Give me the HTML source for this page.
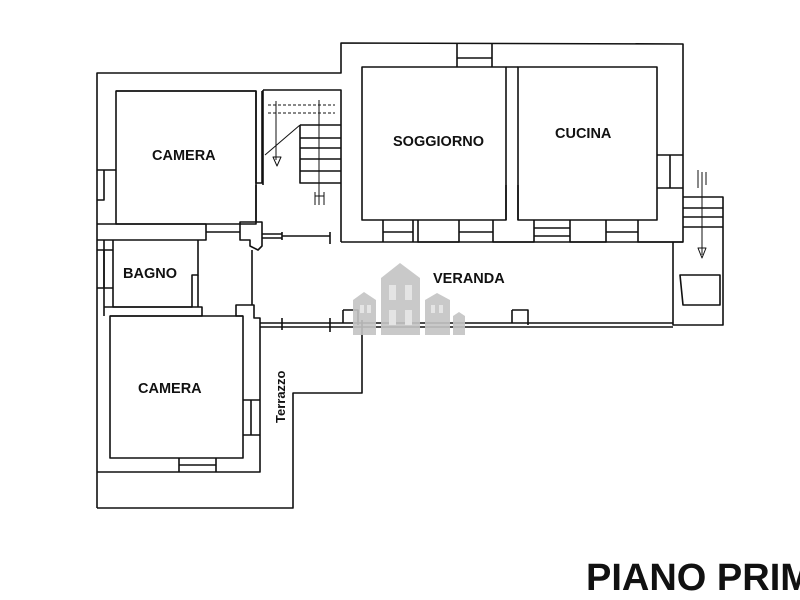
<!DOCTYPE html>
<html><head><meta charset="utf-8"><style>
html,body{margin:0;padding:0;background:#fff;width:800px;height:600px;overflow:hidden}
svg{display:block}
text{font-family:"Liberation Sans",Arial,sans-serif;font-weight:bold;fill:#111}
</style></head><body>
<svg width="800" height="600" viewBox="0 0 800 600" xmlns="http://www.w3.org/2000/svg">
<g fill="none" stroke="#111" stroke-width="1.6" stroke-linejoin="round">
<path d="M97,508 L97,73 L341,73 L341,43 L683,44 L683,242 L673,242"/>
<path d="M97,508 L293,508 L293,393 L362,393 L362,320"/>
<path d="M116,91 L256,91 L256,183 L262,183 L262,91"/>
<rect x="116" y="91" width="140" height="133"/>
<path d="M97,224 L206,224 L206,240 L97,240"/>
<path d="M97,200 L104,200 L104,170 L116,170 M97,170 L104,170"/>
<path d="M113,240 L113,307 L192,307 L192,275 L198,275 L198,240"/>
<path d="M198,275 L198,307 M104,307 L202,307 L202,316 L110,316"/>
<path d="M97,250 L104,250 L104,288 L97,288 M104,250 L113,250 M104,288 L113,288"/>
<path d="M104,240 L104,316"/>
<rect x="110" y="316" width="133" height="142"/>
<path d="M97,472 L260,472 L260,318 L254,318 L254,305 L236,305 L236,316 L243,316"/>
<path d="M243,400 L260,400 M243,435 L260,435 M251,400 L251,435"/>
<path d="M179,458 L179,472 M216,458 L216,472 M179,465 L216,465"/>
<path d="M263,90 L341,90 L341,242"/>
<path d="M263,90 L263,185 M300,125 L341,125 M300,125 L300,183 L341,183"/>
<path d="M300,138 L341,138 M300,148 L341,148 M300,159 L341,159 M300,171 L341,171"/>
<path d="M268,105 L335,105 M268,113 L335,113" stroke-dasharray="3,2" stroke-width="1"/>
<path d="M276,101 L276,160 M319,100 L319,205" stroke-width="1"/>
<path d="M300,125 L265,155" stroke-width="1"/>
<path d="M273,157 L281,157 L277,166 Z M315,192 L315,205 M324,192 L324,205 M315,196 L324,196" stroke-width="1"/>
<path d="M206,232 L240,232 L240,222 L262,222 L262,246 L258,250 L250,246 L250,240 L240,240 L240,232" />
<path d="M256,185 L256,222 M252,250 L252,305"/>
<path d="M262,234 L282,234 M262,238 L282,238 M282,232 L282,240 M282,236 L330,236 M330,232 L330,244"/>
<path d="M341,242 L683,242"/>
<rect x="362" y="67" width="144" height="153"/>
<rect x="518" y="67" width="139" height="153"/>
<path d="M506,67 L518,67 M506,185 L506,220 M518,185 L518,220"/>
<path d="M457,44 L457,67 M492,44 L492,67 M457,58 L492,58"/>
<path d="M383,220 L383,242 M413,220 L413,242 M418,220 L418,242 L459,242 L459,220 M383,232 L413,232"/>
<path d="M493,220 L493,242 L534,242 L534,220 M534,228 L570,228 M570,220 L570,242 L606,242 L606,220 M534,236 L570,236"/>
<path d="M638,220 L638,242 L673,242 M657,155 L683,155 M657,188 L683,188 M670,155 L670,188"/>
<path d="M459,232 L493,232 M606,232 L638,232"/>
<path d="M683,197 L723,197 L723,325 L673,325 L673,242"/>
<path d="M683,208 L723,208 M683,217 L723,217 M683,227 L723,227"/>
<path d="M702,172 L702,255 M698,170 L698,188 M706,172 L706,185" stroke-width="1"/>
<path d="M698,248 L706,248 L702,258 Z" stroke-width="1"/>
<path d="M680,275 L720,275 L720,305 L683,305 Z"/>
<path d="M260,323 L673,323 M260,327 L673,327"/>
<path d="M282,318 L282,330 M330,318 L330,332"/>
<path d="M343,310 L358,310 L358,325 M343,310 L343,323 M512,310 L528,310 L528,325 M512,310 L512,323"/>
</g>
<g fill="#c4c4c4" opacity="0.9">
<path d="M381,335 L381,278 L400,263 L420,278 L420,335 Z"/>
<path d="M353,335 L353,300 L364,292 L376,300 L376,335 Z"/>
<path d="M425,335 L425,300 L437,293 L450,300 L450,335 Z"/>
<path d="M453,335 L453,316 L459,312 L465,316 L465,335 Z"/>
</g>
<g fill="#e4e4e4">
<rect x="389" y="285" width="7" height="15"/><rect x="405" y="285" width="7" height="15"/>
<rect x="389" y="310" width="7" height="15"/><rect x="405" y="310" width="7" height="15"/>
<rect x="360" y="305" width="4" height="8"/><rect x="367" y="305" width="4" height="8"/>
<rect x="431" y="305" width="4" height="8"/><rect x="439" y="305" width="4" height="8"/>
</g>
<text x="152" y="160" font-size="14.5">CAMERA</text>
<text x="123" y="278" font-size="14.5">BAGNO</text>
<text x="138" y="393" font-size="14.5">CAMERA</text>
<text x="393" y="146" font-size="14.5">SOGGIORNO</text>
<text x="555" y="138" font-size="14.5">CUCINA</text>
<text x="433" y="283" font-size="14.5">VERANDA</text>
<text transform="translate(285,423) rotate(-90)" font-size="13">Terrazzo</text>
<text x="586" y="590" font-size="38">PIANO PRIMO</text>
</svg>
</body></html>
